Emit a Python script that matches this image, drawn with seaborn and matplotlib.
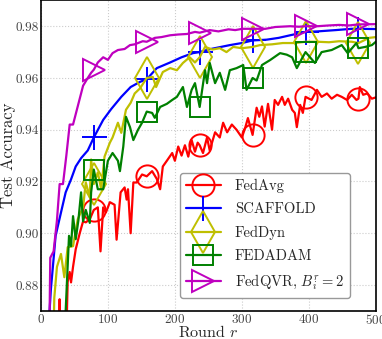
import seaborn as sns
import matplotlib.pyplot as plt

# rounds / accuracies, marker rounds: 79,158,237,316,395,474
marker_rounds = [79, 158, 237, 316, 395, 474]

avg_r = [25, 28, 31, 37, 40, 43, 45, 48, 52, 58, 63, 67, 73, 79, 85, 89, 93, 97, 103, 110,
         113, 119, 125, 128, 130, 134, 138, 143, 151, 158, 166, 173, 178, 182, 188, 196, 200,
         205, 210, 215, 220, 225, 230, 234, 237, 242, 248, 252, 260, 267, 272, 278, 285, 292,
         300, 305, 309, 316, 322, 326, 330, 334, 339, 345, 349, 354, 360, 364, 369, 375, 379,
         382, 387, 391, 395, 404, 412, 419, 427, 434, 442, 449, 457, 464, 471, 474, 476, 481,
         487, 494, 500]
avg_acc = [0.80, 0.8745, 0.80, 0.85, 0.8812, 0.885, 0.881, 0.887, 0.8938, 0.900, 0.9046,
           0.9042, 0.9054, 0.909, 0.910, 0.893, 0.910, 0.908, 0.912, 0.911, 0.8975, 0.9158,
           0.9177, 0.913, 0.917, 0.900, 0.9196, 0.9196, 0.9227, 0.922, 0.924, 0.921, 0.917,
           0.9258, 0.928, 0.931, 0.928, 0.9335, 0.930, 0.934, 0.9296, 0.936, 0.9315, 0.935,
           0.934, 0.931, 0.937, 0.932, 0.939, 0.937, 0.9427, 0.939, 0.942, 0.940, 0.937,
           0.9408, 0.9445, 0.938, 0.9485, 0.945, 0.949, 0.9412, 0.950, 0.940, 0.9515, 0.9496,
           0.9527, 0.9496, 0.952, 0.9477, 0.9465, 0.941, 0.9496, 0.9465, 0.9527, 0.9515,
           0.9554, 0.9527, 0.954, 0.952, 0.9535, 0.9527, 0.9515, 0.9535, 0.9515, 0.952,
           0.9565, 0.9535, 0.954, 0.952, 0.9525]

scaf_r = [10, 13, 15, 22, 30, 37, 45, 52, 60, 70, 79, 93, 105, 120, 134, 148, 158, 173, 193,
          210, 227, 237, 250, 265, 282, 300, 316, 337, 355, 372, 395, 413, 440, 464, 474, 500]
scaf_acc = [0.80, 0.870, 0.8785, 0.899, 0.908, 0.9158, 0.9208, 0.9258, 0.929, 0.932, 0.937,
            0.9438, 0.948, 0.9527, 0.9565, 0.9585, 0.9595, 0.9638, 0.966, 0.968, 0.9696,
            0.970, 0.971, 0.9718, 0.9727, 0.9735, 0.9745, 0.9748, 0.9755, 0.9765, 0.9778,
            0.978, 0.9785, 0.979, 0.979, 0.9789]

dyn_r = [15, 20, 24, 30, 35, 40, 48, 55, 63, 67, 73, 75, 79, 85, 90, 95, 103, 107, 115, 120,
         127, 134, 140, 148, 158, 167, 172, 182, 193, 203, 212, 222, 230, 237, 245, 256, 267,
         277, 287, 300, 316, 327, 345, 361, 380, 395, 413, 430, 445, 464, 474, 490, 500]
dyn_acc = [0.80, 0.875, 0.887, 0.892, 0.883, 0.8946, 0.895, 0.9054, 0.910, 0.9196, 0.914,
           0.9285, 0.919, 0.9235, 0.917, 0.9296, 0.935, 0.937, 0.9427, 0.9388, 0.9477,
           0.9504, 0.954, 0.956, 0.960, 0.9604, 0.9565, 0.9623, 0.9638, 0.963, 0.9658, 0.968,
           0.966, 0.968, 0.972, 0.971, 0.9715, 0.970, 0.972, 0.9715, 0.972, 0.9727, 0.973,
           0.9735, 0.9735, 0.974, 0.974, 0.9738, 0.9742, 0.974, 0.9735, 0.9755, 0.9758]

adam_r = [30, 37, 42, 45, 48, 52, 56, 60, 63, 67, 73, 75, 79, 85, 93, 100, 107, 115, 118, 123,
          127, 133, 138, 145, 151, 158, 166, 170, 178, 188, 196, 203, 212, 218, 225, 230, 237,
          245, 248, 252, 260, 267, 275, 282, 292, 302, 307, 316, 322, 330, 342, 357, 367, 375,
          382, 390, 395, 409, 419, 434, 449, 458, 471, 474, 484, 494, 500]
adam_acc = [0.80, 0.870, 0.899, 0.895, 0.9066, 0.8977, 0.905, 0.9158, 0.9046, 0.909, 0.904,
            0.9158, 0.9246, 0.917, 0.917, 0.928, 0.931, 0.928, 0.924, 0.9335, 0.945, 0.941,
            0.936, 0.940, 0.9427, 0.947, 0.9465, 0.9446, 0.9488, 0.950, 0.9515, 0.9527,
            0.9565, 0.9488, 0.9554, 0.958, 0.9488, 0.963, 0.958, 0.9658, 0.958, 0.962, 0.9554,
            0.963, 0.9638, 0.965, 0.9554, 0.960, 0.959, 0.965, 0.9669, 0.9696, 0.969, 0.968,
            0.9638, 0.9677, 0.970, 0.9658, 0.970, 0.9708, 0.9727, 0.9696, 0.9735, 0.9715,
            0.972, 0.9727, 0.974]

qvr_r = [10, 14, 19, 24, 28, 33, 38, 43, 48, 55, 63, 70, 75, 79, 85, 93, 100, 107, 115, 125,
         133, 140, 152, 158, 170, 180, 193, 205, 218, 230, 237, 252, 265, 280, 290, 301, 316,
         335, 350, 372, 385, 395, 413, 430, 445, 460, 474, 500]
qvr_acc = [0.80, 0.8905, 0.893, 0.905, 0.919, 0.919, 0.930, 0.942, 0.942, 0.949, 0.957, 0.960,
           0.962, 0.9632, 0.966, 0.968, 0.967, 0.9696, 0.9708, 0.9712, 0.9727, 0.973,
           0.9742, 0.974, 0.9755, 0.9758, 0.9765, 0.9768, 0.977, 0.9778, 0.9775, 0.9785,
           0.978, 0.9788, 0.9785, 0.979, 0.979, 0.979, 0.9797, 0.980, 0.9798, 0.980, 0.980,
           0.9803, 0.9805, 0.9803, 0.9807, 0.9808]

series = [
    ("FedAvg", avg_r, avg_acc, "red", "o", 16),
    ("SCAFFOLD", scaf_r, scaf_acc, "blue", "+", 18),
    ("FedDyn", dyn_r, dyn_acc, "y", "d", 21),
    ("FEDADAM", adam_r, adam_acc, "green", "s", 15),
    (r"FedQVR, $B_i^r=2$", qvr_r, qvr_acc, "m", ">", 16),
]

sns.set_style("whitegrid")
plt.rcParams["font.family"] = ["cmr10", "DejaVu Serif"]
plt.rcParams["mathtext.fontset"] = "cm"
plt.rcParams["axes.formatter.use_mathtext"] = True

fig, ax = plt.subplots(figsize=(3.82, 3.39), dpi=100)
fig.subplots_adjust(left=0.107, right=0.984, bottom=0.083, top=0.999)

for label, r, acc, color, mk, ms in series:
    idx = [r.index(m) for m in marker_rounds]
    sns.lineplot(x=r, y=acc, ax=ax, color=color, label=label, estimator=None, sort=False,
                 linewidth=1.6, marker=mk, markevery=idx, markersize=ms,
                 markerfacecolor="none", markeredgecolor=color, markeredgewidth=1.4)

ax.set_xlim(0, 500)
ax.set_ylim(0.87, 0.99)
ax.set_xticks([0, 100, 200, 300, 400, 500])
ax.set_yticks([0.88, 0.90, 0.92, 0.94, 0.96, 0.98])
ax.set_yticklabels(["0.88", "0.90", "0.92", "0.94", "0.96", "0.98"])
ax.set_xlabel("Round $r$", fontsize=11.5)
ax.set_ylabel("Test Accuracy", fontsize=12)
ax.xaxis.set_label_coords(0.5, -0.068)
ax.yaxis.set_label_coords(-0.098, 0.5)
ax.xaxis.label.set_va("center")
ax.yaxis.label.set_va("center")
ax.tick_params(labelsize=9.5, colors="#444444", pad=1.5, length=0)
ax.grid(True, linestyle=":", color="#cccccc", linewidth=0.8)
for s in ax.spines.values():
    s.set_color("black")
    s.set_linewidth(1.2)

ax.legend(loc="upper left", bbox_to_anchor=(180 / 382, 1 - 173 / 339),
          bbox_transform=fig.transFigure, borderaxespad=0,
          fontsize=10.5, handlelength=2.4, handletextpad=0.95, labelspacing=0.65,
          borderpad=0.4, frameon=True, edgecolor="#999999", framealpha=1)

fig.savefig("out.png", dpi=100)
